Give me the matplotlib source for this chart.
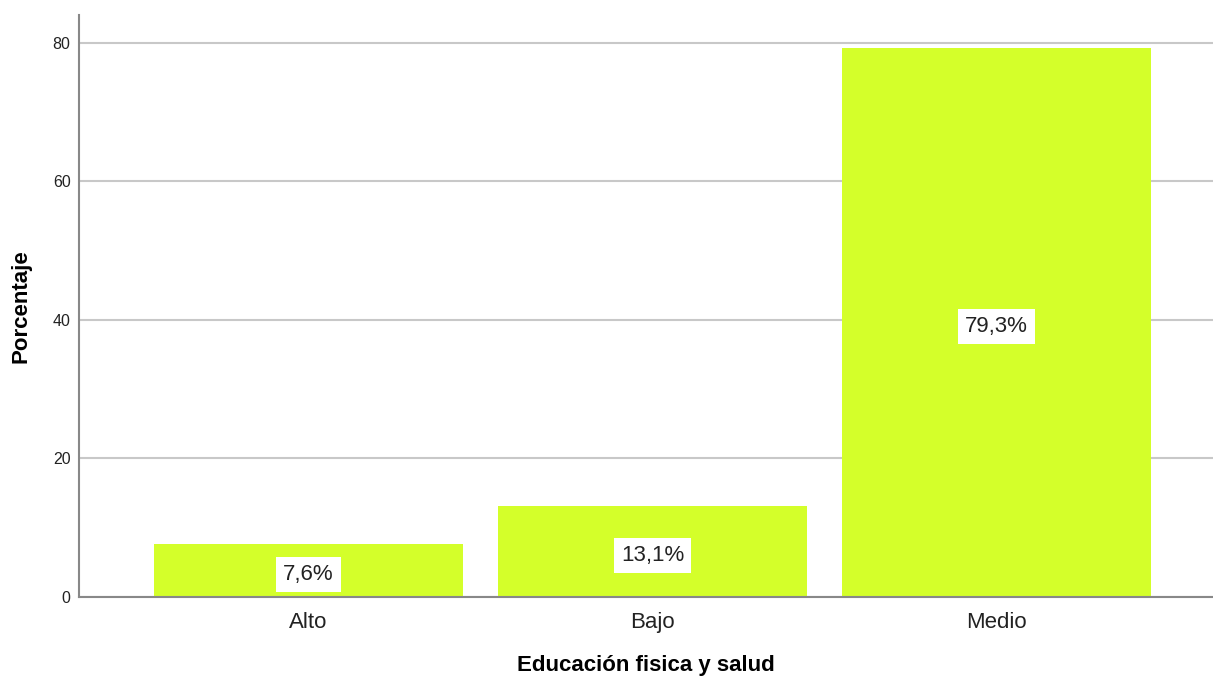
import matplotlib
matplotlib.use("Agg")
import matplotlib.pyplot as plt

plt.rcParams['font.family'] = ['Liberation Sans', 'DejaVu Sans']

# categories and percentages
categories = ["Alto", "Bajo", "Medio"]
percentages = [7.6, 13.1, 79.3]
labels = ["7,6%", "13,1%", "79,3%"]
yticks = [0, 20, 40, 60, 80]

fig = plt.figure(figsize=(12.13, 6.8), dpi=100)
ax = fig.add_axes([0.065, 0.122, 0.935, 0.856])

x = list(range(len(categories)))
ax.bar(x, percentages, width=0.9, color="#d4ff2a", zorder=2)

# value labels in white boxes at the middle of each bar
for xi, val, lab in zip(x, percentages, labels):
    ax.annotate(lab, (xi, val / 2), xytext=(0, -3), textcoords="offset points",
                ha="center", va="center", fontsize=16, color="#222222",
                zorder=3,
                bbox=dict(facecolor="white", edgecolor="none", pad=5))

ax.set_xlim(-0.668, 2.63)
ax.set_ylim(0, 84)
ax.set_yticks(yticks)
ax.set_xticks(x)
ax.set_xticklabels(categories, fontsize=16, color="#222222")
ax.tick_params(axis="y", labelsize=11.5, length=0, pad=6, colors="#222222")
ax.tick_params(axis="x", length=0, pad=11)

ax.yaxis.grid(True, color="#c8c8c8", linewidth=1.5, zorder=0)
ax.set_axisbelow(True)

for s in ["top", "right"]:
    ax.spines[s].set_visible(False)
for s in ["left", "bottom"]:
    ax.spines[s].set_color("#888888")
    ax.spines[s].set_linewidth(1.5)

ax.set_xlabel("Educación fisica y salud", fontsize=16, fontweight="bold",
              labelpad=15.5)
ax.set_ylabel("Porcentaje", fontsize=16, fontweight="bold", labelpad=15)

fig.savefig("out.png", dpi=100)
